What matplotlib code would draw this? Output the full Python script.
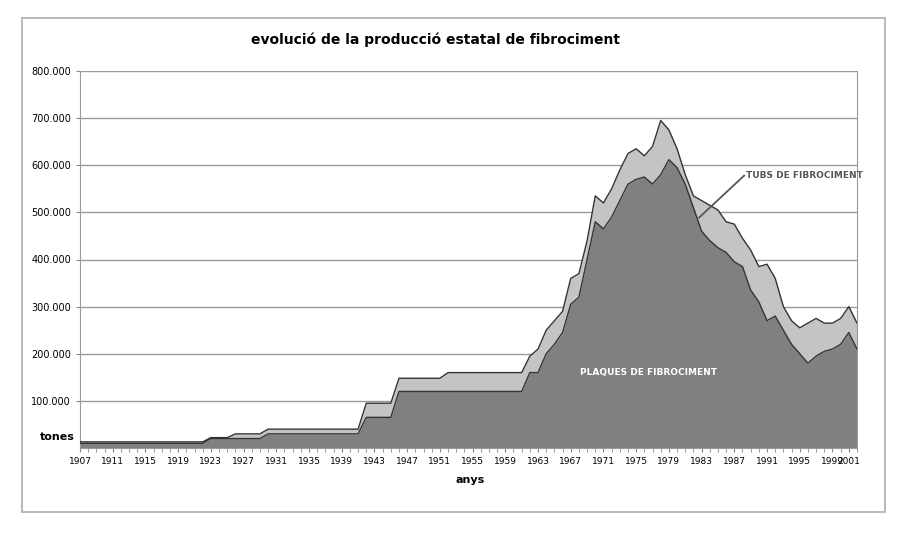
import matplotlib
matplotlib.use("Agg")
import matplotlib.pyplot as plt
import numpy as np

years = list(range(1907, 2003))
plaques = [10000]*16 + [20000]*7 + [30000]*12 + [65000]*4 + [120000]*16 + [
    160000, 160000, 200000, 220000, 245000, 305000, 320000, 400000, 480000, 465000,
    490000, 525000, 560000, 570000, 575000, 560000, 580000, 612000, 595000, 560000,
    510000, 460000, 440000, 425000, 415000, 395000, 385000, 335000, 310000, 270000,
    280000, 250000, 220000, 200000, 180000, 195000, 205000, 210000, 220000,
    245000, 210000]
total = [13000]*16 + [22000]*3 + [30000]*4 + [40000]*12 + [95000]*4 + [148000]*6 + [160000]*10 + [
    195000, 210000, 250000, 270000, 290000, 360000, 370000, 440000, 535000, 520000,
    550000, 590000, 625000, 635000, 620000, 640000, 695000, 675000, 635000, 580000,
    535000, 525000, 515000, 505000, 480000, 475000, 445000, 420000, 385000, 390000,
    360000, 300000, 270000, 255000, 265000, 275000, 265000, 265000, 275000, 300000,
    265000]
yticks = [100000, 200000, 300000, 400000, 500000, 600000, 700000, 800000]
xtick_years = list(range(1907, 2002, 4)) + [2001]

fig = plt.figure(figsize=(9.13, 5.55), dpi=100)
fig.patches.append(matplotlib.patches.Rectangle((22/913, 1-512/555), 863/913, 494/555,
                   transform=fig.transFigure, fill=False, ec="#bbbbbb", lw=1.5))
ax = fig.add_axes([80/913, 1-448/555, 777/913, 377/555])
x = np.array(years)
ax.fill_between(x, 0, plaques, color="#808080", lw=0, zorder=2)
ax.fill_between(x, plaques, total, color="#c4c4c4", lw=0, zorder=2)
ax.plot(x, plaques, color="#333333", lw=1, zorder=3)
ax.plot(x, total, color="#333333", lw=1, zorder=3)
ax.set_xlim(1907, 2002)
ax.set_ylim(0, 800000)
ax.set_yticks(yticks)
ax.set_yticklabels([f"{v:,}".replace(",", ".") for v in yticks], fontsize=7)
ax.set_xticks(xtick_years)
ax.set_xticklabels([str(v) for v in xtick_years], fontsize=6.5)
ax.set_xticks(years, minor=True)
ax.tick_params(axis="x", which="both", length=3, color="#888888")
ax.tick_params(axis="y", length=3, color="#888888")
ax.grid(axis="y", color="#999999", lw=1, zorder=1)
ax.spines["top"].set_visible(False)
for s in ["left", "right", "bottom"]:
    ax.spines[s].set_color("#999999")
fig.text(435/913, 1-40/555, "evolució de la producció estatal de fibrociment",
         ha="center", va="center", fontsize=10, fontweight="bold")
fig.text(57/913, 1-437/555, "tones", ha="center", va="center", fontsize=8, fontweight="bold")
fig.text(470/913, 1-480/555, "anys", ha="center", va="center", fontsize=8, fontweight="bold")
ax.text(1976.5, 160000, "PLAQUES DE FIBROCIMENT", color="white", fontsize=6.5,
        fontweight="bold", ha="center", va="center", zorder=4)
ax.plot([1982.7, 1988.2], [489000, 578000], color="#555555", lw=1.3, zorder=4)
ax.text(1988.4, 578000, "TUBS DE FIBROCIMENT", fontsize=6.5, fontweight="bold",
        color="#555555", ha="left", va="center", zorder=4)
fig.savefig("out.png", dpi=100)
